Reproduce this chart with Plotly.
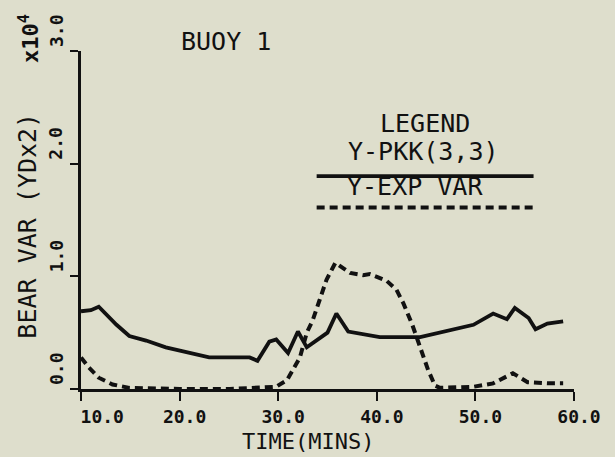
import plotly.graph_objects as go

# Y-PKK(3,3) (solid)
pkk_t = [10.0, 11.0, 11.8, 13.6, 14.9, 16.6, 18.6, 21.0, 23.0, 26.1, 27.1, 27.9, 29.1, 29.8, 31.0,
         32.0, 32.9, 35.0, 35.9, 37.1, 40.3, 44.4, 46.4, 49.8, 51.8, 53.2, 54.0, 55.4, 56.1, 57.3, 58.9]
pkk_v = [0.69, 0.70, 0.73, 0.57, 0.47, 0.43, 0.37, 0.32, 0.28, 0.28, 0.28, 0.25, 0.42, 0.44, 0.32,
         0.51, 0.37, 0.50, 0.67, 0.51, 0.46, 0.46, 0.50, 0.57, 0.67, 0.62, 0.72, 0.63, 0.53, 0.58, 0.60]

# Y-EXP VAR (dashed)
exp_t = [10.0, 10.8, 11.8, 13.2, 14.9, 20.0, 25.1, 28.1, 29.8, 30.9, 31.7, 32.2, 32.9, 33.5, 34.2,
         34.9, 35.8, 37.3, 38.6, 39.3, 41.0, 42.0, 42.7, 43.6, 44.4, 45.2, 45.9, 46.4, 49.8, 51.8,
         53.8, 55.3, 57.3, 58.9]
exp_v = [0.28, 0.19, 0.10, 0.04, 0.01, 0.0, 0.0, 0.01, 0.02, 0.08, 0.20, 0.28, 0.50, 0.61, 0.79,
         0.97, 1.12, 1.03, 1.01, 1.02, 0.96, 0.88, 0.76, 0.57, 0.37, 0.17, 0.03, 0.01, 0.02, 0.05,
         0.14, 0.06, 0.05, 0.05]

x_ticks = [10, 20, 30, 40, 50, 60]
x_ticktext = ["\u00a0\u00a0\u00a010.0", "20.0", "30.0", "40.0", "50.0", "60.0"]
y_ticks = [0, 1, 2, 3]
y_ticktext = ["0.0", "1.0", "2.0", "3.0"]
Y_MAX = 3

BG = "#dedecc"
INK = "#111111"
MONO = "DejaVu Sans Mono"

fig = go.Figure()
fig.add_trace(go.Scatter(x=pkk_t, y=pkk_v, mode="lines",
                         line=dict(color=INK, width=3.8), name="Y-PKK(3,3)"))
fig.add_trace(go.Scatter(x=exp_t, y=exp_v, mode="lines",
                         line=dict(color=INK, width=4, dash="8px,5px"), name="Y-EXP VAR"))

# legend block (drawn like the original, inside the plot)
fig.add_shape(type="line", x0=33.9, x1=55.9, y0=1.89, y1=1.89, xref="x", yref="y",
              line=dict(color=INK, width=3.8))
fig.add_shape(type="line", x0=33.9, x1=55.9, y0=1.61, y1=1.61, xref="x", yref="y",
              line=dict(color=INK, width=4, dash="8px,5px"))

ann_font = dict(family=MONO, size=25, color=INK)
anns = [
    dict(text="LEGEND", x=44.9, y=2.36),
    dict(text="Y-PKK(3,3)", x=44.7, y=2.11),
    dict(text="Y-EXP VAR", x=43.9, y=1.80),
]
for a in anns:
    fig.add_annotation(text=a["text"], x=a["x"], y=a["y"], xref="x", yref="y",
                       showarrow=False, font=ann_font, xanchor="center", yanchor="middle")

# title
fig.add_annotation(text="BUOY 1", x=0.294, y=1, xref="paper", yref="paper", yshift=10,
                   showarrow=False, font=ann_font, xanchor="center", yanchor="middle")

# y tick labels (rotated, sitting a little above each tick as in the original)
for v, t in zip(y_ticks, y_ticktext):
    fig.add_annotation(text=t, x=0, y=v / Y_MAX, xref="paper", yref="paper",
                       xshift=-25, yshift=20, showarrow=False, textangle=-90,
                       font=dict(family=MONO, size=18, color=INK, weight="bold"),
                       xanchor="center", yanchor="middle")

# axis titles
fig.add_annotation(text="TIME(MINS)", x=33.0, y=0, xref="x", yref="paper", yshift=-52,
                   showarrow=False, font=dict(family=MONO, size=22, color=INK),
                   xanchor="center", yanchor="middle")
fig.add_annotation(text="BEAR VAR (YDx2)", x=0, y=1.45, xref="paper", yref="y", xshift=-53,
                   showarrow=False, textangle=-90, font=dict(family=MONO, size=25, color=INK),
                   xanchor="center", yanchor="middle")
fig.add_annotation(text="x10<sup>4</sup>", x=0, y=1, xref="paper", yref="paper", xshift=-52,
                   yshift=12, showarrow=False, textangle=-90,
                   font=dict(family=MONO, size=22, color=INK, weight="bold"),
                   xanchor="center", yanchor="middle")

fig.update_layout(
    width=615, height=457,
    margin=dict(l=81, r=41, t=51, b=68),
    paper_bgcolor=BG, plot_bgcolor=BG,
    showlegend=False,
)
fig.update_xaxes(range=[10, 60], tickvals=x_ticks, ticktext=x_ticktext,
                 showgrid=False, zeroline=False, showline=True, linecolor=INK, linewidth=3,
                 ticks="outside", ticklen=9, tickwidth=2, tickcolor=INK,
                 ticklabelshift=5,
                 tickfont=dict(family=MONO, size=18, color=INK, weight="bold"))
fig.update_yaxes(range=[0, Y_MAX], tickvals=y_ticks, showticklabels=False,
                 showgrid=False, zeroline=False, showline=True, linecolor=INK, linewidth=3,
                 ticks="outside", ticklen=8, tickwidth=2, tickcolor=INK)

fig.write_html("out.html")
